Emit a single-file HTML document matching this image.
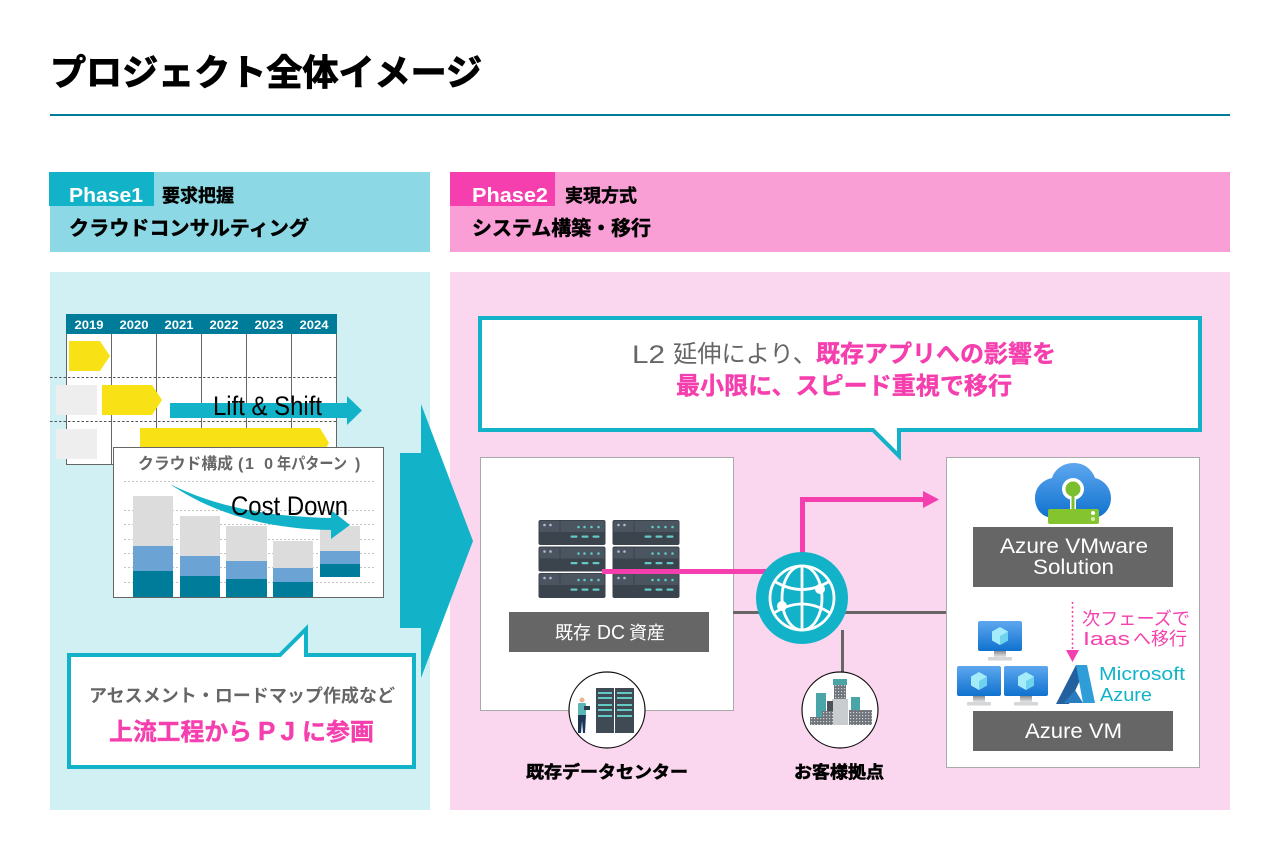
<!DOCTYPE html>
<html lang="ja"><head><meta charset="utf-8"><title>プロジェクト全体イメージ</title>
<style>
html,body{margin:0;padding:0;background:#fff}
svg{display:block}
text{font-family:"Liberation Sans","Noto Sans CJK JP",sans-serif}
.b{font-weight:700}
</style></head><body>
<svg xmlns="http://www.w3.org/2000/svg" width="1280" height="865" viewBox="0 0 1280 865">
<defs>
<linearGradient id="bl" x1="0" y1="0" x2="0" y2="1"><stop offset="0" stop-color="#5ea7ef"/><stop offset="1" stop-color="#0f72cf"/></linearGradient>
<linearGradient id="st" x1="0" y1="0" x2="0" y2="1"><stop offset="0" stop-color="#8a8d90"/><stop offset="1" stop-color="#e6e6e6"/></linearGradient>
<pattern id="win" width="3" height="3" patternUnits="userSpaceOnUse"><rect width="3" height="3" fill="#6f757b"/><rect x="1" y="1" width="1.200" height="1.200" fill="#cfd3d6"/></pattern>
<g id="srv">
<rect x="0" y="0" width="67" height="25" rx="2" fill="#3b434d"/>
<rect x="1" y="1" width="20" height="11" fill="#4b555f"/><rect x="22" y="1" width="44" height="11" fill="#4b555f"/>
<g fill="#b9b4d8"><circle cx="6" cy="5" r="1.300"/><circle cx="12" cy="5" r="1.300"/></g>
<g fill="#62c9c5"><circle cx="40" cy="7" r="1.300"/><circle cx="46" cy="7" r="1.300"/><circle cx="53" cy="7" r="1.300"/><circle cx="60" cy="7" r="1.300"/>
<rect x="32" y="15.500" width="7" height="2.200" rx="1"/><rect x="43" y="15.500" width="7" height="2.200" rx="1"/><rect x="54" y="15.500" width="7" height="2.200" rx="1"/></g>
</g>
<g id="mon">
<rect x="0" y="0" width="44" height="30" rx="2" fill="url(#bl)"/>
<polygon points="22,6 30,10.500 30,19.500 22,24 14,19.500 14,10.500" fill="#a5ecfb"/>
<polygon points="22,15 30,10.500 30,19.500 22,24" fill="#6fd3f0"/>
<rect x="16" y="30" width="12" height="6" fill="url(#st)"/><rect x="10" y="36" width="24" height="3.500" rx="1" fill="#d4d6d8"/>
</g>
</defs>
<rect width="1280" height="865" fill="#fff"/>

<!-- Title -->
<text x="50" y="85" class="b" font-size="36" textLength="432" lengthAdjust="spacingAndGlyphs" fill="#000" stroke="#000" stroke-width="1">プロジェクト全体イメージ</text>
<rect x="50" y="114" width="1180" height="2" fill="#007c9b"/>

<!-- Headers -->
<rect x="50" y="172" width="380" height="80" fill="#8cd9e5"/>
<rect x="49" y="172" width="105" height="34" fill="#12b3c9"/>
<text x="69" y="202" class="b" font-size="20" fill="#fff" textLength="74" lengthAdjust="spacingAndGlyphs">Phase1</text>
<text x="162" y="202" class="b" font-size="18" textLength="72" lengthAdjust="spacingAndGlyphs" stroke="#000" stroke-width=".4">要求把握</text>
<text x="69" y="235" class="b" font-size="20" textLength="240" lengthAdjust="spacingAndGlyphs" stroke="#000" stroke-width=".5">クラウドコンサルティング</text>

<rect x="450" y="172" width="780" height="80" fill="#fa9fd6"/>
<rect x="450" y="172" width="105" height="34" fill="#f53fae"/>
<text x="472" y="202" class="b" font-size="20" fill="#fff" textLength="76" lengthAdjust="spacingAndGlyphs">Phase2</text>
<text x="565" y="202" class="b" font-size="18" textLength="72" lengthAdjust="spacingAndGlyphs" stroke="#000" stroke-width=".4">実現方式</text>
<text x="472" y="235" class="b" font-size="20" textLength="179" lengthAdjust="spacingAndGlyphs" stroke="#000" stroke-width=".5">システム構築・移行</text>

<!-- Panels -->
<rect x="50" y="272" width="380" height="538" fill="#d0f0f4"/>
<rect x="450" y="272" width="780" height="538" fill="#fbd7ef"/>

<!-- Gantt -->
<rect x="66.500" y="314.500" width="270" height="150" fill="#fff" stroke="#666"/>
<rect x="66" y="314" width="271" height="20" fill="#007c9b"/>
<g fill="#fff" class="b" font-size="12">
<text x="74.500" y="329" textLength="29" lengthAdjust="spacingAndGlyphs">2019</text><text x="119.500" y="329" textLength="29" lengthAdjust="spacingAndGlyphs">2020</text><text x="164.500" y="329" textLength="29" lengthAdjust="spacingAndGlyphs">2021</text><text x="209.500" y="329" textLength="29" lengthAdjust="spacingAndGlyphs">2022</text><text x="254.500" y="329" textLength="29" lengthAdjust="spacingAndGlyphs">2023</text><text x="299.500" y="329" textLength="29" lengthAdjust="spacingAndGlyphs">2024</text>
</g>
<g stroke="#666" stroke-width="1"><path d="M111.500 334V464M156.500 334V464M201.500 334V464M246.500 334V464M291.500 334V464"/></g>
<path d="M50 377.500H337M50 421.500H337" stroke="#555" stroke-dasharray="2.500 2"/>
<polygon points="69,341 100,341 110,356 100,371 69,371" fill="#f8e114"/>
<polygon points="102,385 152,385 162,400 152,415 102,415" fill="#f8e114"/>
<polygon points="140,428 320,428 329,443 320,458 140,458" fill="#f8e114"/>
<rect x="56" y="385" width="41" height="30" fill="#eee"/>
<rect x="56" y="429" width="41" height="30" fill="#eee"/>
<polygon points="170,403 347,403 347,396 362,410.500 347,425 347,418 170,418" fill="#12b3c9"/>
<text x="213" y="415" font-size="27" textLength="109" lengthAdjust="spacingAndGlyphs" fill="#000">Lift &amp; Shift</text>

<!-- Chart -->
<rect x="113.500" y="447.500" width="270" height="150" fill="#fff" stroke="#666"/>
<g class="b" font-size="16" fill="#666">
<text x="138" y="469" textLength="95" lengthAdjust="spacingAndGlyphs">クラウド構成</text>
<text x="238" y="469">(</text>
<text x="245" y="469" textLength="28" lengthAdjust="spacing">10</text>
<text x="277" y="469" textLength="70" lengthAdjust="spacingAndGlyphs">年パターン</text>
<text x="355" y="469">)</text>
</g>
<path d="M124 481.500H374M124 510.500H374M124 524.500H374M124 539.500H374M124 553.500H374M124 567.500H374M124 582.500H374" stroke="#c4c4c4" stroke-dasharray="2 2"/>
<g>
<rect x="133" y="496" width="40" height="50" fill="#dcdcdc"/><rect x="133" y="546" width="40" height="25" fill="#6ba3d4"/><rect x="133" y="571" width="40" height="26" fill="#007c9b"/>
<rect x="180" y="516" width="40" height="40" fill="#dcdcdc"/><rect x="180" y="556" width="40" height="20" fill="#6ba3d4"/><rect x="180" y="576" width="40" height="21" fill="#007c9b"/>
<rect x="226" y="526" width="41" height="35" fill="#dcdcdc"/><rect x="226" y="561" width="41" height="18" fill="#6ba3d4"/><rect x="226" y="579" width="41" height="18" fill="#007c9b"/>
<rect x="273" y="541" width="40" height="27" fill="#dcdcdc"/><rect x="273" y="568" width="40" height="14" fill="#6ba3d4"/><rect x="273" y="582" width="40" height="15" fill="#007c9b"/>
<rect x="320" y="526" width="40" height="25" fill="#dcdcdc"/><rect x="320" y="551" width="40" height="13" fill="#6ba3d4"/><rect x="320" y="564" width="40" height="13" fill="#007c9b"/>
</g>
<path d="M170 484C215 507 270 517 331 518V510L350 525 331 539V530C270 529 215 515 170 484Z" fill="#12b3c9"/>
<text x="231" y="515" font-size="27" textLength="117" lengthAdjust="spacingAndGlyphs" fill="#000">Cost Down</text>

<!-- Big arrow -->
<polygon points="400,453 421,453 421,404 473,541 421,678 421,628 400,628" fill="#12b3c9"/>

<!-- Left callout -->
<path d="M69 655H280L306 629V655H414V767H69Z" fill="#fff" stroke="#12b3c9" stroke-width="4"/>
<text x="89" y="702" class="b" font-size="18" fill="#666" textLength="306" lengthAdjust="spacingAndGlyphs">アセスメント・ロードマップ作成など</text>
<g class="b" fill="#f53fae" stroke="#f53fae" stroke-width=".4">
<text x="109" y="740" font-size="24" textLength="143" lengthAdjust="spacingAndGlyphs">上流工程から</text>
<text x="258" y="740" font-size="26" textLength="37" lengthAdjust="spacing">PJ</text>
<text x="302" y="740" font-size="24" textLength="72" lengthAdjust="spacingAndGlyphs">に参画</text>
</g>

<!-- Top callout -->
<path d="M480 318H1200V430H899V456L873 430H480Z" fill="#fff" stroke="#12b3c9" stroke-width="4"/>
<text x="632" y="363" font-size="25" fill="#666" textLength="33" lengthAdjust="spacingAndGlyphs">L2</text>
<text x="673" y="362" font-size="24" fill="#666" textLength="144" lengthAdjust="spacingAndGlyphs">延伸により、</text>
<text x="816" y="362" class="b" font-size="24" fill="#f53fae" textLength="240" lengthAdjust="spacingAndGlyphs" stroke="#f53fae" stroke-width=".4">既存アプリへの影響を</text>
<text x="676" y="394" class="b" font-size="24" fill="#f53fae" textLength="336" lengthAdjust="spacingAndGlyphs" stroke="#f53fae" stroke-width=".4">最小限に、スピード重視で移行</text>

<!-- DC box -->
<rect x="480.500" y="457.500" width="253" height="253" fill="#fff" stroke="#aaa"/>
<use href="#srv" x="538.500" y="520"/><use href="#srv" x="612.500" y="520"/>
<use href="#srv" x="538.500" y="546.500"/><use href="#srv" x="612.500" y="546.500"/>
<use href="#srv" x="538.500" y="573"/><use href="#srv" x="612.500" y="573"/>
<rect x="509" y="612" width="200" height="40" fill="#666"/>
<g font-size="18" fill="#fff">
<text x="555" y="639" textLength="36" lengthAdjust="spacingAndGlyphs">既存</text>
<text x="597" y="639" font-size="20" textLength="28" lengthAdjust="spacingAndGlyphs">DC</text>
<text x="629" y="639" textLength="36" lengthAdjust="spacingAndGlyphs">資産</text>
</g>

<!-- Connectors -->
<rect x="733" y="611" width="214" height="3" fill="#666"/>
<rect x="841" y="630" width="3" height="44" fill="#666"/>
<rect x="602" y="569" width="180" height="5" fill="#f53fae"/>
<path d="M802.500 560V499.500H925" fill="none" stroke="#f53fae" stroke-width="5"/>
<polygon points="923,491 939,499.500 923,508" fill="#f53fae"/>

<!-- Globe -->
<circle cx="802" cy="598" r="46" fill="#12b3c9"/>
<g fill="none" stroke="#fff" stroke-width="2.800">
<circle cx="802" cy="598" r="32"/>
<ellipse cx="802" cy="598" rx="20" ry="32"/>
<path d="M802 566V630"/>
<path d="M774 581Q802 598 830 581"/>
<path d="M774 613Q802 595 830 613"/>
</g>
<circle cx="820" cy="589" r="5" fill="#fff"/><circle cx="782" cy="606" r="5" fill="#fff"/>

<!-- Data center circle -->
<circle cx="607" cy="710" r="38" fill="#fff" stroke="#111" stroke-width="1.200"/>
<g>
<rect x="596" y="688" width="18" height="45" fill="#3f4a55"/><rect x="615" y="688" width="19" height="45" fill="#3f4a55"/>
<g fill="#62c9c5"><rect x="598" y="692" width="14" height="2"/><rect x="617" y="692" width="15" height="2"/><rect x="598" y="697" width="14" height="2"/><rect x="617" y="697" width="15" height="2"/><rect x="598" y="704" width="14" height="2"/><rect x="617" y="704" width="15" height="2"/><rect x="598" y="709" width="14" height="2"/><rect x="617" y="709" width="15" height="2"/><rect x="598" y="715" width="14" height="2"/><rect x="617" y="715" width="15" height="2"/></g>
<circle cx="582" cy="700" r="2.500" fill="#e9b595"/>
<rect x="578" y="703" width="8" height="12" rx="1" fill="#5cb6b6"/>
<rect x="584" y="706" width="6" height="4" fill="#2d3e50"/>
<path d="M578 715H586L585 733H583L582 721 581 733H578Z" fill="#1d3557"/>
</g>
<text x="607" y="778" text-anchor="middle" class="b" font-size="17" textLength="162" lengthAdjust="spacingAndGlyphs" stroke="#000" stroke-width=".6">既存データセンター</text>

<!-- Customer circle -->
<circle cx="840" cy="710" r="38" fill="#fff" stroke="#111" stroke-width="1.200"/>
<g>
<rect x="833" y="679" width="14" height="6" fill="#4aa5a8"/>
<rect x="834" y="685" width="12" height="15" fill="url(#win)"/>
<rect x="832" y="699" width="16" height="26" fill="#c9cdd0"/>
<rect x="816" y="693" width="10" height="24" fill="#4aa5a8"/>
<rect x="827" y="701" width="6" height="24" fill="#4b525a"/>
<rect x="851" y="697" width="9" height="14" fill="#4aa5a8"/>
<rect x="849" y="710" width="23" height="15" fill="url(#win)"/>
<rect x="810" y="717" width="12" height="8" fill="url(#win)"/>
<rect x="822" y="711" width="11" height="14" fill="url(#win)"/>
</g>
<text x="839" y="778" text-anchor="middle" class="b" font-size="17" textLength="90" lengthAdjust="spacingAndGlyphs" stroke="#000" stroke-width=".6">お客様拠点</text>

<!-- Azure box -->
<rect x="946.500" y="457.500" width="253" height="310" fill="#fff" stroke="#aaa"/>
<g fill="url(#bl)">
<path d="M1054 518C1042 518 1035 509 1035 498C1035 488 1042 480 1052 478C1055 469 1063 463 1074 463C1085 463 1092 470 1095 478C1104 480 1111 488 1111 498C1111 509 1103 518 1092 518Z"/>
</g>
<circle cx="1073" cy="489" r="11" fill="#fff"/><rect x="1070" y="495" width="6" height="16" fill="#fff"/>
<circle cx="1073" cy="489" r="7.500" fill="#7cbf2e"/><rect x="1071.500" y="494" width="3" height="16" fill="#7cbf2e"/>
<rect x="1048" y="509" width="51" height="15" rx="2" fill="#84c52f"/>
<circle cx="1093" cy="513" r="2" fill="#fff"/><circle cx="1093" cy="519" r="2" fill="#d7edb8"/>
<rect x="973" y="527" width="200" height="60" fill="#666"/>
<text x="1000" y="553" font-size="21" fill="#fff" textLength="148" lengthAdjust="spacingAndGlyphs">Azure VMware</text>
<text x="1033" y="574" font-size="21" fill="#fff" textLength="81" lengthAdjust="spacingAndGlyphs">Solution</text>
<use href="#mon" x="978" y="621"/><use href="#mon" x="957" y="666"/><use href="#mon" x="1004" y="666"/>
<path d="M1072.500 602V650" stroke="#f53fae" stroke-width="1.500" stroke-dasharray="2 2.500"/>
<polygon points="1066,650 1079,650 1072.500,662" fill="#f53fae"/>
<text x="1082" y="625" font-size="18" fill="#f53fae" textLength="108" lengthAdjust="spacingAndGlyphs">次フェーズで</text>
<text x="1083" y="645" font-size="18" fill="#f53fae" textLength="47" lengthAdjust="spacingAndGlyphs">Iaas</text>
<text x="1133" y="645" font-size="18" fill="#f53fae" textLength="54" lengthAdjust="spacingAndGlyphs">へ移行</text>
<polygon points="1076,665 1087,665 1069,704 1056,704" fill="#24609f"/>
<polygon points="1076,665 1087,665 1095,703 1083,703" fill="#2f9ed8"/>
<polygon points="1075,690 1083,703 1064,703" fill="#2a7cc0"/>
<text x="1099" y="680" font-size="18" fill="#12b3c9" textLength="86" lengthAdjust="spacingAndGlyphs">Microsoft</text>
<text x="1100" y="701" font-size="18" fill="#12b3c9" textLength="52" lengthAdjust="spacingAndGlyphs">Azure</text>
<rect x="973" y="711" width="200" height="40" fill="#666"/>
<text x="1025" y="738" font-size="21" fill="#fff" textLength="97" lengthAdjust="spacingAndGlyphs">Azure VM</text>
</svg>
</body></html>
